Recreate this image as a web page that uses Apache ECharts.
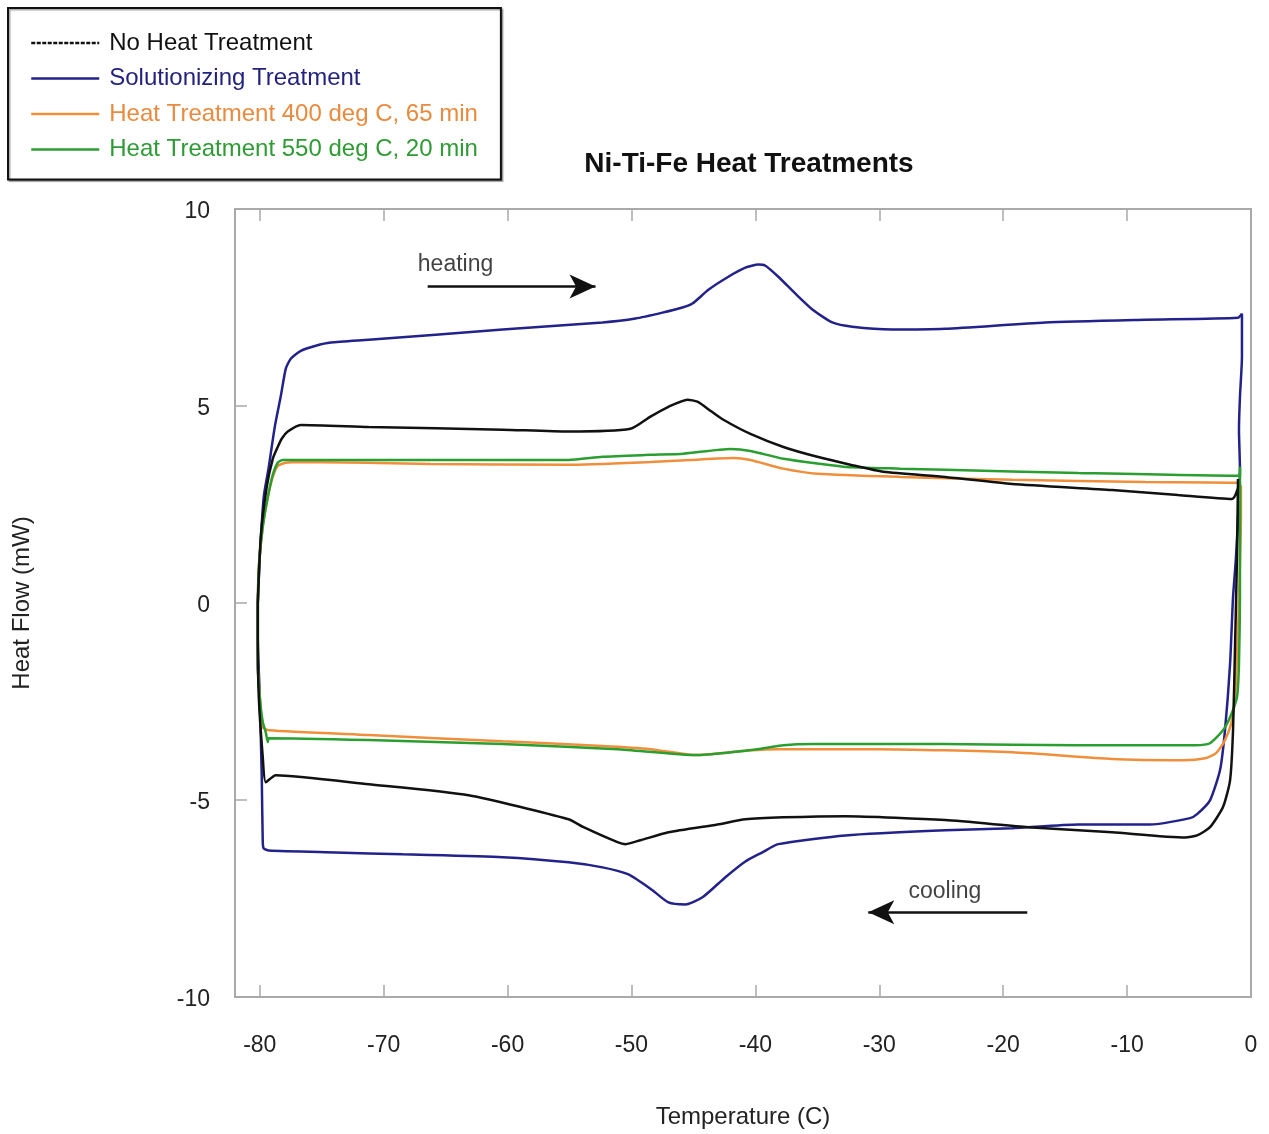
<!DOCTYPE html>
<html>
<head>
<meta charset="utf-8">
<title>Ni-Ti-Fe Heat Treatments</title>
<script src="https://cdn.jsdelivr.net/npm/echarts@6/dist/echarts.min.js"></script>
<style>
  html, body { margin: 0; padding: 0; background: #ffffff; }
  #chart { width: 1269px; height: 1134px; }
</style>
</head>
<body>
<div id="chart"></div>
<script>
// DSC loops: [temperature (C), heat flow (mW)], heating branch on top, cooling branch below
const seriesNames = [
  'No Heat Treatment',
  'Solutionizing Treatment',
  'Heat Treatment 400 deg C, 65 min',
  'Heat Treatment 550 deg C, 20 min'
];

const temperatureTicks = [-80, -70, -60, -50, -40, -30, -20, -10, 0];
const heatFlowTicks = [-10, -5, 0, 5, 10];

const noHeatTreatment = [
  [-80.16, 0], [-79.92, 1.68], [-79.44, 2.95], [-78.95, 3.66], [-78.55, 3.96],
  [-78.23, 4.17], [-77.74, 4.35], [-76.69, 4.52], [-71.21, 4.47], [-60.40, 4.40],
  [-55.08, 4.35], [-50.08, 4.42], [-48.47, 4.73], [-47.02, 4.98], [-45.48, 5.16],
  [-44.68, 5.11], [-43.63, 4.88], [-42.58, 4.65], [-40.40, 4.29], [-37.74, 3.96],
  [-35.00, 3.71], [-32.34, 3.51], [-29.68, 3.33], [-24.68, 3.20], [-19.27, 3.02],
  [-11.21, 2.87], [-5.89, 2.74], [-1.53, 2.64], [-1.05, 2.95], [-1.05, 3.15],
  [-1.13, 1.17], [-1.29, -1.12], [-1.45, -3.23], [-1.69, -4.50], [-2.26, -5.18],
  [-3.31, -5.69], [-4.35, -5.90], [-5.32, -5.95], [-11.21, -5.82], [-17.98, -5.69],
  [-24.68, -5.51], [-32.74, -5.41], [-37.74, -5.44], [-40.81, -5.49], [-43.06, -5.62],
  [-47.02, -5.82], [-49.27, -6.02], [-50.48, -6.12], [-51.13, -6.07], [-53.87, -5.69],
  [-55.08, -5.49], [-63.15, -4.88], [-71.21, -4.60], [-78.71, -4.37], [-79.52, -4.55],
  [-79.76, -3.91], [-80.08, -2.39], [-80.16, -0.86], [-80.16, 0]
];

const solutionizing = [
  [-80.16, 0], [-80.00, 1.17], [-79.68, 2.69], [-79.27, 3.46], [-78.79, 4.47],
  [-78.31, 5.24], [-77.90, 5.95], [-77.50, 6.20], [-76.69, 6.40], [-75.48, 6.53],
  [-74.27, 6.61], [-71.21, 6.68], [-60.40, 6.94], [-52.34, 7.12], [-49.68, 7.22],
  [-47.50, 7.37], [-45.89, 7.50], [-45.08, 7.60], [-43.79, 7.95], [-42.18, 8.28],
  [-40.81, 8.51], [-39.76, 8.59], [-39.19, 8.56], [-38.15, 8.28], [-36.77, 7.85],
  [-35.40, 7.45], [-33.79, 7.12], [-32.18, 7.01], [-28.95, 6.94], [-24.68, 6.96],
  [-16.61, 7.12], [-8.55, 7.19], [-1.05, 7.24], [-0.73, 7.34], [-0.73, 6.25],
  [-0.89, 5.24], [-0.97, 4.40], [-0.89, 3.38], [-1.21, 1.17], [-1.45, 0.15],
  [-1.69, -1.55], [-2.10, -3.23], [-2.50, -4.24], [-3.31, -5.01], [-4.35, -5.36],
  [-4.92, -5.46], [-8.15, -5.62], [-13.95, -5.62], [-19.27, -5.72], [-24.68, -5.77],
  [-32.74, -5.90], [-38.15, -6.12], [-39.44, -6.33], [-40.81, -6.56], [-42.42, -6.96],
  [-44.27, -7.47], [-45.65, -7.65], [-47.02, -7.60], [-48.31, -7.29], [-50.24, -6.89],
  [-52.34, -6.71], [-55.08, -6.58], [-60.40, -6.45], [-68.47, -6.38], [-73.87, -6.33],
  [-79.27, -6.28], [-79.68, -6.23], [-79.76, -6.07], [-79.84, -4.42], [-80.00, -2.39],
  [-80.16, -0.86], [-80.16, 0]
];

const treatment400 = [
  [-80.16, 0], [-80.08, 0.91], [-79.76, 1.93], [-79.35, 2.69], [-78.95, 3.20],
  [-78.55, 3.48], [-77.90, 3.56], [-76.69, 3.58], [-66.21, 3.53], [-55.08, 3.51],
  [-48.47, 3.58], [-45.24, 3.63], [-41.77, 3.68], [-40.40, 3.63], [-37.74, 3.41],
  [-35.00, 3.28], [-28.31, 3.20], [-19.27, 3.13], [-8.55, 3.07], [-1.05, 3.05],
  [-0.81, 2.95], [-0.81, 2.19], [-0.97, 0.15], [-1.05, -0.69], [-1.29, -2.39],
  [-1.61, -3.07], [-2.18, -3.53], [-2.82, -3.81], [-3.71, -3.94], [-5.48, -3.99],
  [-11.21, -3.96], [-19.27, -3.79], [-30.08, -3.71], [-38.15, -3.71], [-40.40, -3.74],
  [-44.68, -3.86], [-48.47, -3.71], [-52.34, -3.63], [-60.40, -3.51], [-71.21, -3.35],
  [-79.27, -3.23], [-79.76, -3.15], [-80.00, -2.39], [-80.16, -1.55], [-80.16, 0]
];

const treatment550 = [
  [-80.16, 0], [-80.08, 0.91], [-79.76, 1.93], [-79.35, 2.69], [-78.95, 3.25],
  [-78.55, 3.56], [-78.15, 3.63], [-76.69, 3.63], [-66.21, 3.63], [-55.08, 3.63],
  [-52.34, 3.71], [-48.47, 3.76], [-45.81, 3.79], [-42.02, 3.91], [-40.40, 3.86],
  [-37.74, 3.66], [-32.90, 3.46], [-28.31, 3.41], [-24.68, 3.38], [-13.95, 3.30],
  [-1.05, 3.23], [-0.89, 3.46], [-0.89, 2.69], [-0.89, 0.15], [-0.97, -1.55],
  [-1.13, -2.39], [-1.69, -2.90], [-2.26, -3.23], [-3.31, -3.56], [-4.52, -3.61],
  [-13.95, -3.61], [-24.68, -3.58], [-35.40, -3.58], [-37.74, -3.61], [-39.84, -3.71],
  [-42.02, -3.79], [-44.68, -3.86], [-51.13, -3.71], [-60.40, -3.58], [-71.21, -3.48],
  [-79.27, -3.43], [-79.35, -3.53], [-79.52, -3.28], [-79.76, -3.02], [-80.00, -2.39],
  [-80.16, -1.55], [-80.16, 0]
];

// direction notes and their arrows, in temperature / heat-flow units
const noteLabels = [
  { name: 'heating', value: [-64.2, 8.6] },
  { name: 'cooling', value: [-24.7, -7.33] }
];
const noteArrows = [
  [[-66.45, 8.03], [-52.9, 8.03]],
  [[-18.06, -7.85], [-30.89, -7.85]]
];

const colors = ['#111111', '#22228a', '#ef8f3c', '#2b9e30'];
const textColors = ['#111111', '#23237f', '#e98a3e', '#2e9b34'];
const loops = [noHeatTreatment, solutionizing, treatment400, treatment550];

const FONT = 'Liberation Sans, Arial, Helvetica, sans-serif';
const AXIS_GREY = '#a9a9a9';

const chart = echarts.init(document.getElementById('chart'), null, { renderer: 'canvas' });

const lineSeries = loops.map((d, i) => ({
  name: seriesNames[i],
  type: 'line',
  data: d,
  symbol: 'none',
  smooth: 0.2,
  z: 3 + (i === 0 ? 1 : 0),
  lineStyle: { color: colors[i], width: 2.5 },
  itemStyle: { color: colors[i] }
}));

const noteSeries = {
  name: 'notes',
  type: 'scatter',
  data: noteLabels,
  symbolSize: 0,
  silent: true,
  label: {
    show: true,
    position: 'inside',
    formatter: '{b}',
    fontFamily: FONT,
    fontSize: 23,
    color: '#111',
    textBorderWidth: 0
  },
  markLine: {
    silent: true,
    symbol: ['none', 'arrow'],
    symbolSize: [18, 26],
    label: { show: false },
    lineStyle: { color: '#111', width: 2.5, type: 'solid' },
    data: noteArrows.map(a => [{ coord: a[0] }, { coord: a[1] }])
  }
};

const option = {
  animation: false,
  backgroundColor: '#ffffff',
  title: {
    text: 'Ni-Ti-Fe Heat Treatments',
    left: 744,
    top: 145,
    textAlign: 'center',
    textStyle: { fontFamily: FONT, fontSize: 28, fontWeight: 'bold', color: '#111' }
  },
  legend: {
    orient: 'vertical',
    left: 8,
    top: 8,
    padding: [23, 23, 18, 22],
    itemGap: 11.5,
    itemWidth: 68,
    itemHeight: 14,
    borderColor: '#111',
    borderWidth: 2,
    borderRadius: 0,
    shadowColor: 'rgba(0,0,0,0.35)',
    shadowOffsetX: 1.5,
    shadowOffsetY: 1.5,
    shadowBlur: 1,
    backgroundColor: '#fff',
    itemStyle: { opacity: 0 },
    textStyle: { fontFamily: FONT, fontSize: 24, padding: [0, 0, 0, 5] },
    data: seriesNames.map((n, i) => ({
      name: n,
      textStyle: { color: textColors[i] },
      itemStyle: { opacity: 0 },
      lineStyle: i === 0 ? { type: [4, 1.5], width: 2.5 } : { width: 2.5 }
    }))
  },
  grid: {
    left: 235,
    top: 209,
    width: 1016,
    height: 791,
    show: true,
    borderColor: AXIS_GREY,
    borderWidth: 2,
    backgroundColor: 'transparent'
  },
  xAxis: [
    {
      type: 'value',
      min: -82,
      max: 0,
      position: 'bottom',
      axisLine: { show: true, onZero: false, lineStyle: { color: AXIS_GREY, width: 2 } },
      axisTick: { show: true, inside: true, length: 12, customValues: temperatureTicks,
        lineStyle: { color: AXIS_GREY, width: 1.5 } },
      axisLabel: { customValues: temperatureTicks, margin: 37, fontFamily: FONT, fontSize: 23, color: '#222' },
      splitLine: { show: false },
      name: 'Temperature (C)',
      nameLocation: 'middle',
      nameGap: 108,
      nameTextStyle: { fontFamily: FONT, fontSize: 24, color: '#222' }
    },
    {
      type: 'value',
      min: -82,
      max: 0,
      position: 'top',
      axisLine: { show: true, onZero: false, lineStyle: { color: AXIS_GREY, width: 2 } },
      axisTick: { show: true, inside: true, length: 12, customValues: temperatureTicks,
        lineStyle: { color: AXIS_GREY, width: 1.5 } },
      axisLabel: { show: false },
      splitLine: { show: false }
    }
  ],
  yAxis: {
    type: 'value',
    min: -10,
    max: 10,
    interval: 5,
    axisLine: { show: true, onZero: false, lineStyle: { color: AXIS_GREY, width: 2 } },
    axisTick: { show: true, inside: true, length: 12, customValues: heatFlowTicks,
      lineStyle: { color: AXIS_GREY, width: 1.5 } },
    axisLabel: {
      customValues: heatFlowTicks,
      margin: 25,
      formatter: v => '{t|' + v + '}',
      rich: { t: { padding: [6, 0, 0, 0], fontFamily: FONT, fontSize: 23, color: '#222' } }
    },
    splitLine: { show: false },
    name: 'Heat Flow (mW)',
    nameLocation: 'middle',
    nameGap: 201,
    nameTextStyle: { fontFamily: FONT, fontSize: 24, color: '#222' }
  },
  series: lineSeries.concat([noteSeries])
};

chart.setOption(option);
</script>
</body>
</html>
